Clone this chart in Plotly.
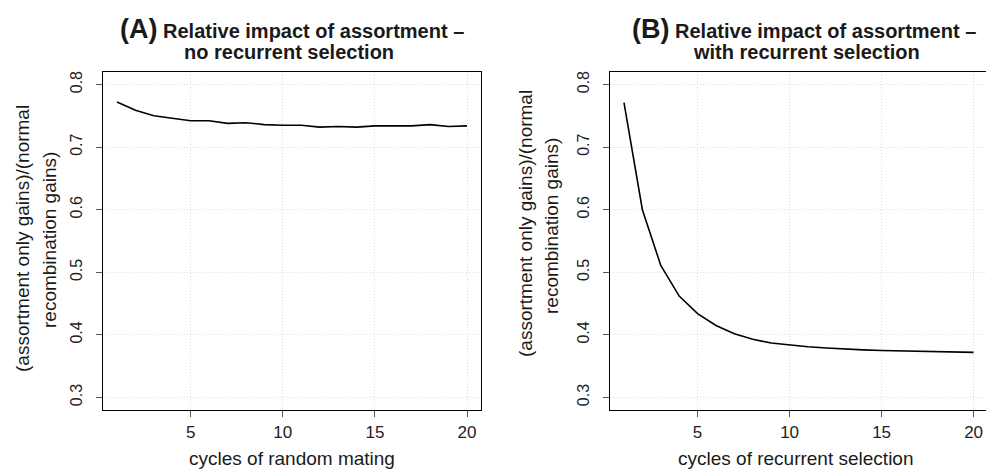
import plotly.graph_objects as go

# ---- data ----
cycles = list(range(1, 21))
ratio_no_selection = [0.772, 0.759, 0.750, 0.746, 0.742, 0.742, 0.738, 0.739, 0.736, 0.735,
                      0.735, 0.732, 0.733, 0.732, 0.734, 0.734, 0.734, 0.736, 0.733, 0.734]
ratio_with_selection = [0.771, 0.600, 0.511, 0.462, 0.434, 0.415, 0.402, 0.393, 0.387, 0.3835,
                        0.381, 0.379, 0.377, 0.376, 0.375, 0.3745, 0.374, 0.3735, 0.373, 0.372]
x_ticks = [5, 10, 15, 20]
y_ticks = [0.3, 0.4, 0.5, 0.6, 0.7, 0.8]
y_tick_labels = ["0.3", "0.4", "0.5", "0.6", "0.7", "0.8"]

W, H = 986, 469
FONT = "Liberation Sans, Arial, Helvetica, sans-serif"

def px(x):
    return x / W

def py(y):
    return 1 - y / H

fig = go.Figure()
fig.add_trace(go.Scatter(x=cycles, y=ratio_no_selection, mode="lines",
                         line=dict(color="black", width=1.6), xaxis="x", yaxis="y",
                         showlegend=False, hoverinfo="skip"))
fig.add_trace(go.Scatter(x=cycles, y=ratio_with_selection, mode="lines",
                         line=dict(color="black", width=1.6), xaxis="x2", yaxis="y2",
                         showlegend=False, hoverinfo="skip"))

ydom = [py(410), py(72)]
GRID = "#dcdcdc"

common_x = dict(tickvals=x_ticks, showgrid=True, gridcolor=GRID, griddash="1px,2px", gridwidth=1,
                showline=True, linecolor="black", linewidth=1.2, mirror=True,
                ticks="outside", ticklen=6, tickcolor="#555", tickwidth=1,
                zeroline=False, tickfont=dict(family=FONT, size=17, color="#222"), fixedrange=True)
common_y = dict(tickvals=y_ticks, ticktext=y_tick_labels, range=[0.28, 0.82], domain=ydom,
                showgrid=True, gridcolor=GRID, griddash="1px,2px", gridwidth=1,
                showline=True, linecolor="black", linewidth=1.2,
                ticks="outside", ticklen=6, tickcolor="#555", tickwidth=1, tickangle=-90,
                ticklabelstandoff=8,
                zeroline=False, tickfont=dict(family=FONT, size=16, color="#222"), fixedrange=True)

fig.update_layout(
    width=W, height=H, autosize=False,
    margin=dict(l=0, r=0, t=0, b=0),
    paper_bgcolor="white", plot_bgcolor="white",
    xaxis=dict(common_x, domain=[px(103), px(481)], range=[0.24, 20.76], anchor="y"),
    yaxis=dict(common_y, anchor="x", mirror=True),
    xaxis2=dict(common_x, domain=[px(610), 1.0], range=[0.24, 0.24 + 376 / 18.4], anchor="y2"),
    yaxis2=dict(common_y, anchor="x2", mirror=False),
)

ann = []
def add(text, x, y, size, angle=0, yanchor="middle"):
    ann.append(dict(text=text, x=px(x), y=py(y), xref="paper", yref="paper",
                    xanchor="center", yanchor=yanchor, showarrow=False, textangle=angle,
                    font=dict(family=FONT, size=size, color="#1a1a1a")))

add("<b><span style='font-size:27px'>(A)</span> Relative impact of assortment –</b>", 292, 29, 20)
add("<b>no recurrent selection</b>", 289, 52, 20)
add("(assortment only gains)/(normal", 23, 239, 19, -90)
add("recombination gains)", 49, 240, 19, -90)
add("cycles of random mating", 292, 470.5, 19, yanchor="bottom")

add("<b><span style='font-size:27px'>(B)</span> Relative impact of assortment –</b>", 804, 29, 20)
add("<b>with recurrent selection</b>", 806, 52, 20)
add("(assortment only gains)/(normal", 525, 224, 19, -90)
add("recombination gains)", 552, 226, 19, -90)
add("cycles of recurrent selection", 796, 470.5, 19, yanchor="bottom")

fig.update_layout(annotations=ann)
fig.write_html("out.html")
